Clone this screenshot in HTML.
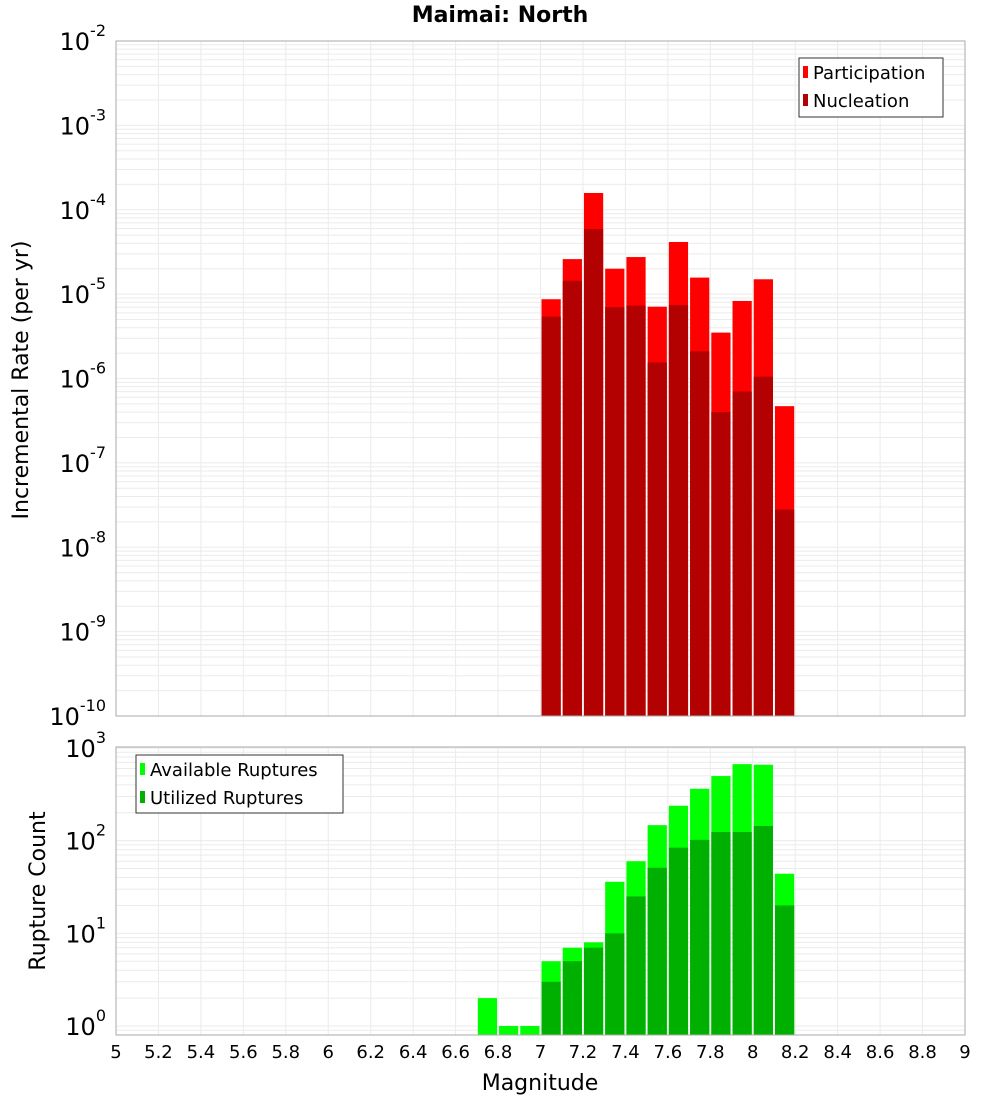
<!DOCTYPE html>
<html><head><meta charset="utf-8"><style>
body{margin:0;background:#fff;width:1000px;height:1100px;overflow:hidden}
svg{display:block;font-family:"DejaVu Sans","Liberation Sans",sans-serif}
</style></head><body>
<svg id="c" width="1000" height="1100" xmlns="http://www.w3.org/2000/svg">
<text x="500" y="22" text-anchor="middle" font-size="22" font-weight="bold">Maimai: North</text>
<g id="top"></g><g id="bot"></g>
<text transform="translate(28,380) rotate(-90)" text-anchor="middle" font-size="22">Incremental Rate (per yr)</text>
<text transform="translate(45,891) rotate(-90)" text-anchor="middle" font-size="22">Rupture Count</text>
<text x="540" y="1090" text-anchor="middle" font-size="22">Magnitude</text>
</svg>
<script>
const mags=[7.05,7.15,7.25,7.35,7.45,7.55,7.65,7.75,7.85,7.95,8.05,8.15];
const participation=[8.7e-6,2.6e-5,1.58e-4,2.0e-5,2.75e-5,7.1e-6,4.15e-5,1.57e-5,3.5e-6,8.3e-6,1.5e-5,4.7e-7];
const nucleation=[5.4e-6,1.44e-5,5.9e-5,7.0e-6,7.3e-6,1.55e-6,7.4e-6,2.1e-6,4.0e-7,7.0e-7,1.05e-6,2.8e-8];
const countMags=[6.75,6.85,6.95,7.05,7.15,7.25,7.35,7.45,7.55,7.65,7.75,7.85,7.95,8.05,8.15];
const available=[2,1,1,5,7,8,36,60,147,238,363,498,670,660,44];
const utilized=[0,0,0,3,5,7,10,25,51,84,102,124,124,144,20];
const xTicks=[5,5.2,5.4,5.6,5.8,6,6.2,6.4,6.6,6.8,7,7.2,7.4,7.6,7.8,8,8.2,8.4,8.6,8.8,9];
const topExps=[-2,-3,-4,-5,-6,-7,-8,-9,-10];
const botExps=[3,2,1,0];
const NS="http://www.w3.org/2000/svg";
const X0=116,X1=965;
const xs=m=>X0+(m-5)/4*(X1-X0);
function el(p,t,a){const e=document.createElementNS(NS,t);for(const k in a)e.setAttribute(k,a[k]);p.appendChild(e);return e;}
function panel(g,top,bottom,yTop,yBot,logMin,logMax,name){
 // yTop pixel for logMax, yBot pixel for logMin
 const ys=v=>yTop+(logMax-Math.log10(v))/(logMax-logMin)*(yBot-yTop);
 const lo=Math.floor(logMin)-1;
 for(let d=lo;d<=logMax;d++)for(let k=1;k<10;k++){const y=ys(k*Math.pow(10,d));if(y<top-0.1||y>bottom+0.1)continue;
  const l=el(g,'line',{x1:X0,x2:X1,y1:y,y2:y,stroke:'#ebebeb','stroke-width':1});
  }
 xTicks.forEach(t=>{const x=xs(t);const l=el(g,'line',{x1:x,x2:x,y1:top,y2:bottom,stroke:'#ebebeb','stroke-width':1});
  });
 return ys;
}
function bar(g,m,v,ys,base,fill,nm){if(!(v>0))return;const x=xs(m-0.05)+1,w=xs(m+0.05)-xs(m-0.05)-2,y=ys(v);
 const r=el(g,'rect',{x:x,y:y,width:w,height:base-y,fill:fill});
 }
function ylab(g,x,y,e,nm){const t=el(g,'text',{x:x,y:y+9,'text-anchor':'end','font-size':24});
 
 t.textContent='10';const s=el(t,'tspan',{dy:-14,'font-size':16});s.textContent=String(e);}
// top
const gT=document.getElementById('top');
const ysT=panel(gT,41,716,41,716,-10,-2);
mags.forEach((m,i)=>bar(gT,m,participation[i],ysT,716,'#ff0000','bar-participation'));
mags.forEach((m,i)=>bar(gT,m,nucleation[i],ysT,716,'#b30000','bar-nucleation'));
let f=el(gT,'rect',{x:X0,y:41,width:X1-X0,height:675,fill:'none',stroke:'#aaa'});

topExps.forEach(e=>ylab(gT,106,ysT(Math.pow(10,e)),e,'top-y-tick-label'));
let lg=el(gT,'g',{});
el(lg,'rect',{x:799,y:58,width:144,height:59,fill:'#fff',stroke:'#333'});
[['Participation','#ff0000',73],['Nucleation','#b30000',101]].forEach(([n,c,y])=>{
 el(lg,'rect',{x:803,y:y-7,width:5,height:12,fill:c});
 const t=el(lg,'text',{x:813,y:y+6,'font-size':18});t.textContent=n;
 });
// bottom
const gB=document.getElementById('bot');
const ysB=panel(gB,747,1035,748,1026,0,3);
countMags.forEach((m,i)=>bar(gB,m,available[i],ysB,1035,'#00ff00','bar-available'));
countMags.forEach((m,i)=>bar(gB,m,utilized[i],ysB,1035,'#00b000','bar-utilized'));
f=el(gB,'rect',{x:X0,y:747,width:X1-X0,height:288,fill:'none',stroke:'#aaa'});

botExps.forEach(e=>ylab(gB,106,ysB(Math.pow(10,e)),e,'bottom-y-tick-label'));
lg=el(gB,'g',{});
el(lg,'rect',{x:136,y:755,width:207,height:58,fill:'#fff',stroke:'#333'});
[['Available Ruptures','#00ff00',770],['Utilized Ruptures','#00b000',798]].forEach(([n,c,y])=>{
 el(lg,'rect',{x:140,y:y-7,width:5,height:12,fill:c});
 const t=el(lg,'text',{x:150,y:y+6,'font-size':18});t.textContent=n;
 });
xTicks.forEach(t=>{const tx=el(gB,'text',{x:xs(t),y:1058,'text-anchor':'middle','font-size':18});
 tx.textContent=String(t);});
</script>
</body></html>
